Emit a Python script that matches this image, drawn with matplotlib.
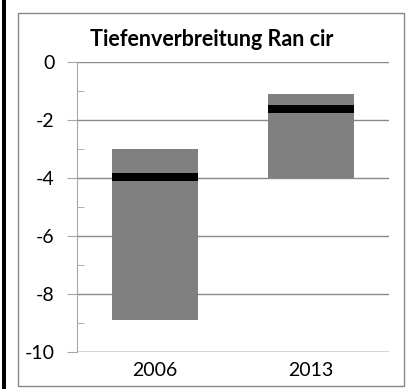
import matplotlib.pyplot as plt
from matplotlib.patches import Rectangle
import numpy as np

plt.rcParams['font.family'] = ['Lato', 'DejaVu Sans']
plt.rcParams['axes.unicode_minus'] = False

# Tiefenverbreitung (m) je Jahr
years = ['2006', '2013']
depth_top = [-3.0, -1.1]
depth_bottom = [-8.9, -4.0]
mean_top = [-3.83, -1.48]
mean_bottom = [-4.1, -1.76]

W, H = 407, 389
fig = plt.figure(figsize=(W / 100, H / 100), dpi=100)
ax = fig.add_axes([77 / W, 1 - 352 / H, (389 - 77) / W, (352 - 62) / H])

x = np.arange(len(years))
grey = '#808080'
ax.bar(x, np.array(depth_top) - np.array(depth_bottom), bottom=depth_bottom,
       width=0.545, color=grey, zorder=3)
ax.bar(x, np.array(mean_top) - np.array(mean_bottom), bottom=mean_bottom,
       width=0.545, color='black', zorder=4)

ax.set_xlim(-0.5, 1.5)
ax.set_ylim(-10, 0)
ax.set_yticks([0, -2, -4, -6, -8, -10])
ax.set_yticks([-1, -3, -5, -7, -9], minor=True)
ax.set_xticks(x)
ax.set_xticklabels(years)
ax.yaxis.grid(True, color='#898989', linewidth=1, zorder=0)
ax.set_axisbelow(True)

for s in ['top', 'right', 'bottom']:
    ax.spines[s].set_visible(False)
ax.spines['left'].set_color('#a6a6a6')
ax.axhline(-10, color='#898989', linewidth=1, zorder=1)

ax.tick_params(axis='y', which='major', direction='out', length=7, color='#a6a6a6',
               labelsize=14, pad=9)
ax.tick_params(axis='y', which='minor', direction='in', length=5, color='#a6a6a6')
ax.tick_params(axis='x', length=0, labelsize=14, pad=7)

fig.text(212 / W, 1 - 40 / H, 'Tiefenverbreitung Ran cir', ha='center', va='center',
         fontsize=15.5, fontweight='bold')

# Rahmen
fig.add_artist(Rectangle((18 / W, 1 - 386 / H), (404 - 18) / W, (386 - 13) / H,
                         transform=fig.transFigure, fill=False, edgecolor='#888888', linewidth=1))
fig.add_artist(Rectangle((2 / W, 0), 4 / W, 1, transform=fig.transFigure,
                         facecolor='black', edgecolor='none'))

fig.savefig('out.png', dpi=100)
